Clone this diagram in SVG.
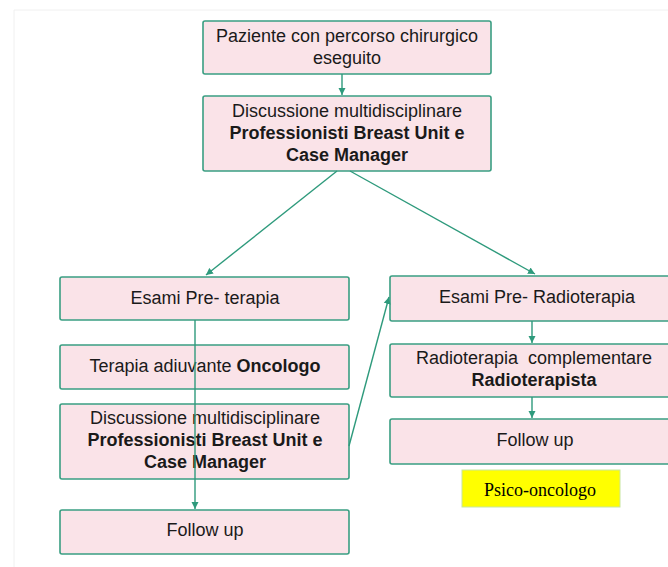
<svg xmlns="http://www.w3.org/2000/svg" width="668" height="567" viewBox="0 0 668 567">
<defs>
<marker id="ah" markerWidth="8" markerHeight="8" refX="7" refY="4" orient="auto" markerUnits="userSpaceOnUse">
<path d="M0,0.5 L7,4 L0,7.5 Z" fill="#2e9a7c"/>
</marker>
</defs>
<style>
.box{fill:#fae3e8;stroke:#3a9e82;stroke-width:1.6}
.t{font-family:"Liberation Sans",Arial,sans-serif;font-size:18px;fill:#1a1a1a;text-anchor:middle}
.b{font-weight:bold}
.c{stroke:#2e9a7c;stroke-width:1.4;fill:none;marker-end:url(#ah)}
</style>
<rect x="0" y="0" width="668" height="567" fill="#fff"/>
<path d="M14,567 L14,10 L668,10" fill="none" stroke="#f0f0f0" stroke-width="1"/>
<g id="n1"><rect class="box" x="203" y="21" width="288" height="53" rx="2"/>
<text class="t" x="347" y="42">Paziente con percorso chirurgico</text>
<text class="t" x="347" y="64">eseguito</text></g>
<g id="n2"><rect class="box" x="203" y="96" width="288" height="75" rx="2"/>
<text class="t" x="347" y="117">Discussione multidisciplinare</text>
<text class="t b" x="347" y="139">Professionisti Breast Unit e</text>
<text class="t b" x="347" y="161">Case Manager</text></g>
<g id="n3"><rect class="box" x="60" y="277" width="289" height="43" rx="2"/>
<text class="t" x="205" y="304">Esami Pre- terapia</text></g>
<g id="n4"><rect class="box" x="60" y="345" width="289" height="44" rx="2"/>
<text class="t" x="205" y="372">Terapia adiuvante <tspan class="b">Oncologo</tspan></text></g>
<g id="n5"><rect class="box" x="60" y="404" width="289" height="75" rx="2"/>
<text class="t" x="205" y="424">Discussione multidisciplinare</text>
<text class="t b" x="205" y="446">Professionisti Breast Unit e</text>
<text class="t b" x="205" y="468">Case Manager</text></g>
<g id="n6"><rect class="box" x="60" y="510" width="289" height="44" rx="2"/>
<text class="t" x="205" y="536">Follow up</text></g>
<g id="n7"><rect class="box" x="390" y="276" width="290" height="45" rx="2"/>
<text class="t" x="537" y="303">Esami Pre- Radioterapia</text></g>
<g id="n8"><rect class="box" x="390" y="344" width="290" height="53" rx="2"/>
<text class="t" x="534" y="364" xml:space="preserve">Radioterapia  complementare</text>
<text class="t b" x="534" y="386">Radioterapista</text></g>
<g id="n9"><rect class="box" x="390" y="419" width="290" height="45" rx="2"/>
<text class="t" x="535" y="446">Follow up</text></g>
<g id="n10"><rect x="462" y="470" width="158" height="37" fill="#ffff00" stroke="#c8e6a0" stroke-width="1"/>
<text x="540" y="496" font-family="'Liberation Serif','Times New Roman',serif" font-size="18" text-anchor="middle" fill="#000">Psico-oncologo</text></g>
<g id="connectors">
<line class="c" x1="342" y1="74" x2="342" y2="95"/>
<line class="c" x1="337" y1="171" x2="206" y2="275"/>
<line class="c" x1="350" y1="171" x2="535" y2="274"/>
<line class="c" x1="195" y1="320" x2="195" y2="509"/>
<line class="c" x1="349" y1="446" x2="389" y2="297"/>
<line class="c" x1="532" y1="321" x2="532" y2="343"/>
<line class="c" x1="532" y1="397" x2="532" y2="418"/>
</g>
</svg>
